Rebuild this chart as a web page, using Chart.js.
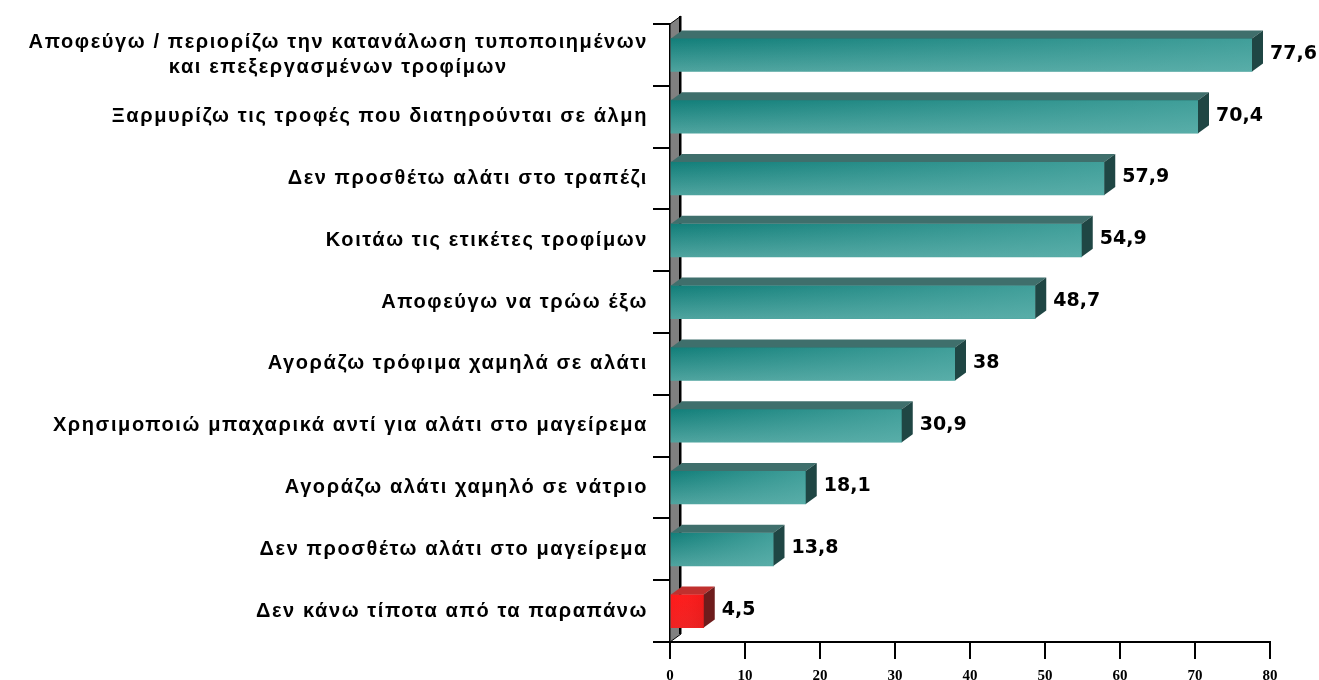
<!DOCTYPE html>
<html>
<head>
<meta charset="utf-8">
<script src="https://cdn.jsdelivr.net/npm/chart.js@4.4.1/dist/chart.umd.min.js"></script>
<style>
  html, body { margin: 0; padding: 0; background: #fff; }
  .chart-container { width: 1319px; height: 680px; position: relative; }
</style>
</head>
<body>
<div class="chart-container"><canvas id="myChart"></canvas></div>
<script>
// data
const categories = [
  ["Αποφεύγω / περιορίζω την κατανάλωση τυποποιημένων", "και επεξεργασμένων τροφίμων"],
  "Ξαρμυρίζω τις τροφές που διατηρούνται σε άλμη",
  "Δεν προσθέτω αλάτι στο τραπέζι",
  "Κοιτάω τις ετικέτες τροφίμων",
  "Αποφεύγω να τρώω έξω",
  "Αγοράζω τρόφιμα χαμηλά σε αλάτι",
  "Χρησιμοποιώ μπαχαρικά αντί για αλάτι στο μαγείρεμα",
  "Αγοράζω αλάτι χαμηλό σε νάτριο",
  "Δεν προσθέτω αλάτι στο μαγείρεμα",
  "Δεν κάνω τίποτα από τα παραπάνω"
];
const values = [77.6, 70.4, 57.9, 54.9, 48.7, 38, 30.9, 18.1, 13.8, 4.5];
const xTicks = [0, 10, 20, 30, 40, 50, 60, 70, 80];

// the "none of the above" answer is shown in red
const isNone = i => i === categories.length - 1;

const DX = 11, DY = 8; // 3d depth

const palette = {
  teal: { front: ["#137f7a", "#4ea39e"], sheen: ["rgba(95,180,175,0)", "rgba(95,180,175,0.6)"], top: "#3f6f6c", side: "#1f4644" },
  red:  { front: ["#ff1a1a", "#f02222"], sheen: ["rgba(255,80,80,0)", "rgba(200,20,20,0.25)"], top: "#c0302e", side: "#6e1c1c" }
};

function frontFill(ctx) {
  const chart = ctx.chart;
  const c = isNone(ctx.dataIndex) ? palette.red : palette.teal;
  if (!chart.chartArea) return c.front[0];
  const yc = chart.scales.y.getPixelForValue(ctx.dataIndex);
  const g = chart.ctx.createLinearGradient(0, yc - 16, 0, yc + 16);
  g.addColorStop(0, c.front[0]);
  g.addColorStop(1, c.front[1]);
  return g;
}

const barsPlugin = {
  id: "bars3d",
  beforeDatasetsDraw(chart) {
    // gray wall behind the bars
    const { ctx, chartArea } = chart;
    const l = chartArea.left, t = chartArea.top, b = chartArea.bottom;
    ctx.save();
    ctx.fillStyle = "#808080";
    ctx.beginPath();
    ctx.moveTo(l, t);
    ctx.lineTo(l + DX, t - DY);
    ctx.lineTo(l + DX, b - DY);
    ctx.lineTo(l, b);
    ctx.closePath();
    ctx.fill();
    ctx.strokeStyle = "#000";
    ctx.lineWidth = 1;
    ctx.stroke();
    ctx.beginPath();
    ctx.moveTo(l + DX - 1, t - DY);
    ctx.lineTo(l + DX - 1, b - DY);
    ctx.lineWidth = 2;
    ctx.stroke();
    ctx.restore();
  },
  afterDatasetsDraw(chart) {
    const { ctx } = chart;
    const meta = chart.getDatasetMeta(0);
    ctx.save();
    meta.data.forEach((bar, i) => {
      const c = isNone(i) ? palette.red : palette.teal;
      const top = bar.y - bar.height / 2, bot = bar.y + bar.height / 2;
      const l = bar.base, r = bar.x;
      // horizontal sheen on the front face
      const sh = ctx.createLinearGradient(l, 0, r, 0);
      sh.addColorStop(0, c.sheen[0]);
      sh.addColorStop(1, c.sheen[1]);
      ctx.fillStyle = sh;
      ctx.fillRect(l, top, r - l, bot - top);
      // top face
      ctx.fillStyle = c.top;
      ctx.beginPath();
      ctx.moveTo(l, top);
      ctx.lineTo(l + DX, top - DY);
      ctx.lineTo(r + DX, top - DY);
      ctx.lineTo(r, top);
      ctx.closePath();
      ctx.fill();
      // side face
      ctx.fillStyle = c.side;
      ctx.beginPath();
      ctx.moveTo(r, top);
      ctx.lineTo(r + DX, top - DY);
      ctx.lineTo(r + DX, bot - DY);
      ctx.lineTo(r, bot);
      ctx.closePath();
      ctx.fill();
      // value label
      ctx.fillStyle = "#000";
      ctx.font = 'bold 19px "DejaVu Sans"';
      ctx.textAlign = "left";
      ctx.textBaseline = "middle";
      ctx.fillText(String(values[i]).replace(".", ","), r + DX + 7, bar.y - 1);
    });
    ctx.restore();
  },
  afterDraw(chart) {
    // category labels, right aligned, multi-line centred on their widest line
    const { ctx } = chart;
    const yScale = chart.scales.y;
    const right = 648;
    ctx.save();
    ctx.fillStyle = "#000";
    ctx.font = 'bold 20px "Liberation Sans"';
    ctx.letterSpacing = "1.6px";
    ctx.textBaseline = "middle";
    categories.forEach((label, i) => {
      const lines = Array.isArray(label) ? label : [label];
      const yc = yScale.getPixelForValue(i);
      const w = Math.max(...lines.map(s => ctx.measureText(s).width));
      const lh = 25;
      lines.forEach((s, k) => {
        const yy = yc + (k - (lines.length - 1) / 2) * lh;
        if (lines.length > 1) {
          ctx.textAlign = "center";
          ctx.fillText(s, right - w / 2, yy);
        } else {
          ctx.textAlign = "right";
          ctx.fillText(s, right, yy);
        }
      });
    });
    ctx.restore();
  }
};

new Chart(document.getElementById("myChart").getContext("2d"), {
  type: "bar",
  data: {
    labels: categories,
    datasets: [{
      data: values,
      backgroundColor: frontFill,
      borderWidth: 0,
      barThickness: 33
    }]
  },
  options: {
    indexAxis: "y",
    responsive: true,
    maintainAspectRatio: false,
    animation: false,
    layout: { padding: { top: 24, right: 49, left: 0, bottom: 0 } },
    plugins: { legend: { display: false }, tooltip: { enabled: false } },
    scales: {
      x: {
        min: 0,
        max: 80,
        afterBuildTicks: scale => { scale.ticks = xTicks.map(v => ({ value: v })); },
        afterFit: scale => { scale.height = 38; },
        grid: { drawOnChartArea: false, color: "#000", lineWidth: 2, tickLength: 17 },
        border: { color: "#000", width: 2 },
        ticks: {
          color: "#000",
          padding: 8,
          font: { family: "Liberation Serif", weight: "bold", size: 15 }
        }
      },
      y: {
        afterFit: scale => { scale.width = 670; },
        grid: { drawOnChartArea: false, color: "#000", lineWidth: 2, tickLength: 17, offset: true },
        border: { color: "#000", width: 2 },
        ticks: { display: false }
      }
    }
  },
  plugins: [barsPlugin]
});
</script>
</body>
</html>
